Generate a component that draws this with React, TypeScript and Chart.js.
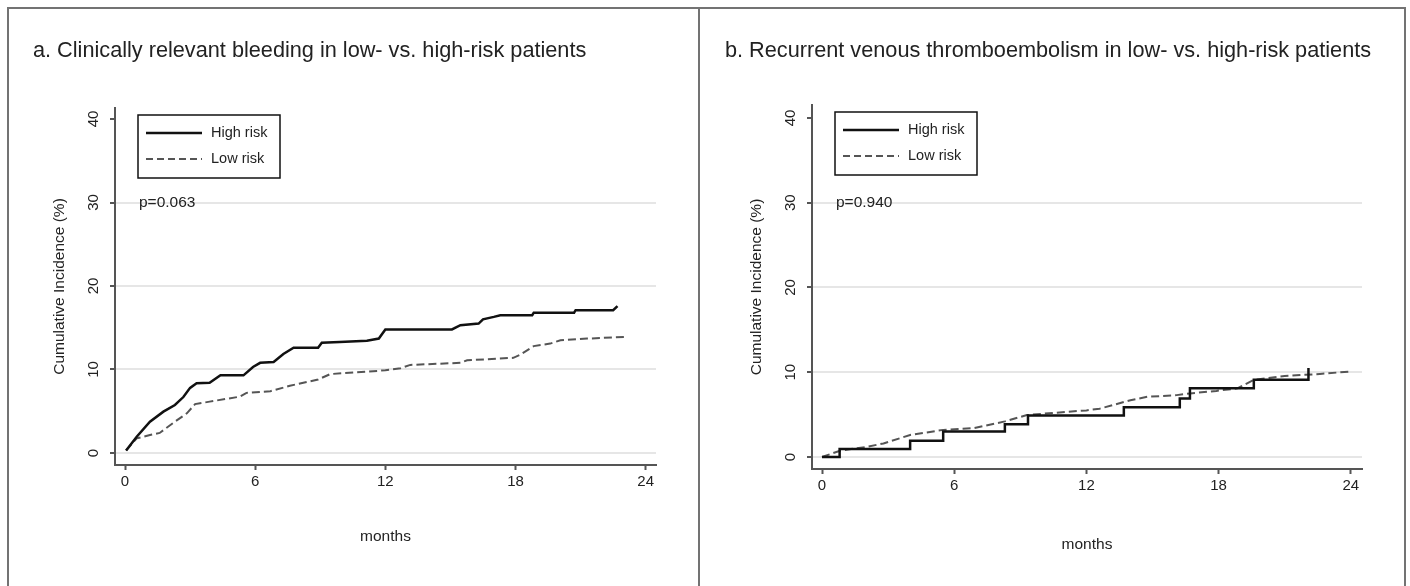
import React, { useEffect, useRef } from "react";
import { Chart, registerables } from "chart.js";

Chart.register(...registerables);

const FONT = "'Liberation Sans', Arial, Helvetica, sans-serif";

// Axis ticks shared by both panels
const xTicks = [0, 6, 12, 18, 24];
const yTicks = [0, 10, 20, 30, 40];
const seriesNames = ["High risk", "Low risk"];
const xTitle = "months";
const yTitle = "Cumulative Incidence (%)";

// a. Clinically relevant bleeding — cumulative incidence (%) by month
const bleedHighMonths = [0.05, 0.54, 1.15, 1.77, 2.3, 2.69, 3.0, 3.3, 3.9, 4.4, 5.46, 5.9, 6.23, 6.85, 7.3, 7.77, 8.9, 9.07, 9.9, 11.15, 11.7, 12.0, 15.07, 15.46, 16.3, 16.5, 17.0, 17.3, 18.77, 18.84, 20.7, 20.77, 22.5, 22.7];
const bleedHighPct = [0.3, 1.95, 3.75, 4.95, 5.75, 6.7, 7.8, 8.35, 8.4, 9.3, 9.3, 10.3, 10.8, 10.9, 11.85, 12.6, 12.6, 13.2, 13.3, 13.45, 13.7, 14.8, 14.8, 15.3, 15.5, 16.0, 16.3, 16.5, 16.5, 16.8, 16.8, 17.1, 17.1, 17.6];
const bleedLowMonths = [0.05, 0.54, 1.15, 1.6, 2.3, 2.85, 3.23, 3.9, 5.3, 5.6, 6.7, 7.6, 8.9, 9.46, 11.15, 12.0, 12.7, 13.15, 15.46, 15.77, 17.9, 18.2, 18.84, 19.6, 20.07, 21.3, 23.07];
const bleedLowPct = [0.3, 1.75, 2.15, 2.4, 3.75, 4.75, 5.85, 6.15, 6.75, 7.2, 7.4, 8.05, 8.8, 9.45, 9.75, 9.9, 10.15, 10.55, 10.8, 11.1, 11.4, 11.75, 12.8, 13.1, 13.5, 13.7, 13.9];

// b. Recurrent venous thromboembolism — cumulative incidence (%) by month
const vteHighMonths = [0, 0.8, 4.0, 5.5, 8.3, 9.35, 13.7, 16.24, 16.7, 19.6, 22.08];
const vteHighPct = [0, 0.94, 1.93, 3.0, 3.85, 4.9, 5.86, 6.9, 8.1, 9.1, 10.5];
const vteLowMonths = [0, 0.82, 2.03, 2.79, 4.0, 5.5, 6.9, 8.3, 9.3, 10.5, 12.0, 12.6, 14.0, 14.76, 16.1, 16.7, 17.9, 18.85, 19.6, 21.0, 22.6, 23.9];
const vteLowPct = [0, 0.74, 1.2, 1.6, 2.6, 3.2, 3.4, 4.2, 4.95, 5.2, 5.5, 5.7, 6.7, 7.1, 7.3, 7.5, 7.8, 8.1, 9.1, 9.55, 9.8, 10.07];

const toPoints = (xs: number[], ys: number[]) => xs.map((x, i) => ({ x, y: ys[i] }));

type PanelSpec = {
  title: string;
  pText: string;
  left: number;
  width: number;
  titleLeft: number;
  pad: { left: number; top: number; right: number; bottom: number };
  xAxisHeight: number;
  xRange: [number, number];
  yRange: [number, number];
  high: { x: number; y: number }[];
  low: { x: number; y: number }[];
  highStepped: boolean;
};

const panels: PanelSpec[] = [
  {
    title: "a. Clinically relevant bleeding in low- vs. high-risk patients",
    pText: "p=0.063",
    left: 0,
    width: 700,
    titleLeft: 33,
    pad: { left: 55, top: 108, right: 44, bottom: 40 },
    xAxisHeight: 81,
    xRange: [-0.461, 24.475],
    yRange: [-1.44, 41.32],
    high: toPoints(bleedHighMonths, bleedHighPct),
    low: toPoints(bleedLowMonths, bleedLowPct),
    highStepped: false,
  },
  {
    title: "b. Recurrent venous thromboembolism in low- vs. high-risk patients",
    pText: "p=0.940",
    left: 700,
    width: 710,
    titleLeft: 725,
    pad: { left: 52, top: 105, right: 48, bottom: 32 },
    xAxisHeight: 85,
    xRange: [-0.454, 24.51],
    yRange: [-1.416, 41.53],
    high: toPoints(vteHighMonths, vteHighPct),
    low: toPoints(vteLowMonths, vteLowPct),
    highStepped: true,
  },
];

const AXIS = "#555";
const TEXT = "#222";
const HIGH_COLOR = "#111";
const LOW_COLOR = "#555";
const LOW_DASH = [8, 4];

// Draws rotated y tick labels, y title, p-value note and the boxed legend
const overlayPlugin = {
  id: "kmOverlay",
  afterDraw(chart: any, _args: any, opts: any) {
    const { ctx, chartArea } = chart;
    const ys = chart.scales.y;
    ctx.save();
    ctx.fillStyle = TEXT;

    ctx.font = `15px ${FONT}`;
    ctx.textAlign = "center";
    ctx.textBaseline = "middle";
    for (const v of yTicks) {
      ctx.save();
      ctx.translate(chartArea.left - 21, ys.getPixelForValue(v));
      ctx.rotate(-Math.PI / 2);
      ctx.fillText(String(v), 0, 0);
      ctx.restore();
    }

    ctx.font = `15.5px ${FONT}`;
    ctx.save();
    ctx.translate(chartArea.left - 55, (chartArea.top + chartArea.bottom) / 2);
    ctx.rotate(-Math.PI / 2);
    ctx.fillText(yTitle, 0, 0);
    ctx.restore();

    ctx.font = `15.5px ${FONT}`;
    ctx.textAlign = "left";
    ctx.fillText(opts.pText, chartArea.left + 24, ys.getPixelForValue(30));

    // legend box
    const bx = chartArea.left + 23;
    const by = chartArea.top + 7;
    const bw = 142;
    const bh = 63;
    ctx.fillStyle = "#fff";
    ctx.fillRect(bx, by, bw, bh);
    ctx.strokeStyle = "#111";
    ctx.lineWidth = 1.5;
    ctx.strokeRect(bx, by, bw, bh);

    const rows = [by + 18, by + 44];
    ctx.lineWidth = 2.5;
    ctx.strokeStyle = HIGH_COLOR;
    ctx.beginPath();
    ctx.moveTo(bx + 8, rows[0]);
    ctx.lineTo(bx + 64, rows[0]);
    ctx.stroke();
    ctx.lineWidth = 2;
    ctx.strokeStyle = LOW_COLOR;
    ctx.setLineDash([7, 4]);
    ctx.beginPath();
    ctx.moveTo(bx + 8, rows[1]);
    ctx.lineTo(bx + 64, rows[1]);
    ctx.stroke();
    ctx.setLineDash([]);

    ctx.fillStyle = TEXT;
    ctx.font = `14.5px ${FONT}`;
    ctx.textBaseline = "middle";
    ctx.fillText(seriesNames[0], bx + 73, rows[0]);
    ctx.fillText(seriesNames[1], bx + 73, rows[1]);
    ctx.restore();
  },
};

function Panel({ spec }: { spec: PanelSpec }) {
  const ref = useRef<HTMLCanvasElement | null>(null);

  useEffect(() => {
    if (!ref.current) return;
    const chart = new Chart(ref.current, {
      type: "line",
      data: {
        datasets: [
          {
            label: seriesNames[0],
            data: spec.high,
            borderColor: HIGH_COLOR,
            borderWidth: 2.5,
            pointRadius: 0,
            fill: false,
            tension: 0,
            stepped: spec.highStepped ? "before" : false,
          },
          {
            label: seriesNames[1],
            data: spec.low,
            borderColor: LOW_COLOR,
            borderWidth: 2,
            borderDash: LOW_DASH,
            pointRadius: 0,
            fill: false,
            tension: 0,
          },
        ],
      },
      options: {
        animation: false,
        responsive: false,
        maintainAspectRatio: false,
        devicePixelRatio: 1,
        events: [],
        layout: { padding: spec.pad, autoPadding: false },
        plugins: {
          legend: { display: false },
          tooltip: { enabled: false },
          title: { display: false },
          kmOverlay: { pText: spec.pText },
        } as any,
        scales: {
          x: {
            type: "linear",
            min: spec.xRange[0],
            max: spec.xRange[1],
            afterBuildTicks: (s: any) => {
              s.ticks = xTicks.map((value) => ({ value }));
            },
            afterFit: (s: any) => {
              s.height = spec.xAxisHeight;
            },
            grid: {
              drawOnChartArea: false,
              drawTicks: true,
              tickLength: 5,
              tickColor: AXIS,
              tickWidth: 2,
              color: AXIS,
            },
            border: { display: true, color: AXIS, width: 2 },
            ticks: {
              color: TEXT,
              font: { family: FONT, size: 15 },
              padding: 3,
              maxRotation: 0,
              autoSkip: false,
            },
            title: {
              display: true,
              text: xTitle,
              color: TEXT,
              font: { family: FONT, size: 15.5 },
              padding: 0,
            },
          },
          y: {
            type: "linear",
            min: spec.yRange[0],
            max: spec.yRange[1],
            afterBuildTicks: (s: any) => {
              s.ticks = yTicks.map((value) => ({ value }));
            },
            afterFit: (s: any) => {
              s.width = 60;
            },
            grid: {
              color: (c: any) => (c.tick && c.tick.value === 40 ? "rgba(0,0,0,0)" : "#e6e6e6"),
              lineWidth: 2,
              drawTicks: true,
              tickLength: 5,
              tickColor: AXIS,
              tickWidth: 2,
            },
            border: { display: true, color: AXIS, width: 2 },
            ticks: { display: false },
          },
        },
      },
      plugins: [overlayPlugin],
    });
    return () => chart.destroy();
  }, [spec]);

  return (
    <canvas
      ref={ref}
      width={spec.width}
      height={586}
      style={{ position: "absolute", left: spec.left, top: 0, width: spec.width, height: 586 }}
    />
  );
}

export default function App() {
  const frame = "#737373";
  return (
    <div
      style={{
        position: "fixed",
        left: 0,
        top: 0,
        width: 1410,
        height: 586,
        background: "#fff",
        overflow: "hidden",
        fontFamily: FONT,
      }}
    >
      {panels.map((p) => (
        <Panel key={p.title} spec={p} />
      ))}
      {panels.map((p) => (
        <div
          key={p.title + "-t"}
          style={{
            position: "absolute",
            left: p.titleLeft,
            top: 39,
            fontSize: 21.7,
            lineHeight: "21.7px",
            color: TEXT,
            whiteSpace: "nowrap",
          }}
        >
          {p.title}
        </div>
      ))}
      <div style={{ position: "absolute", left: 7, top: 7, width: 1399, height: 2, background: frame }} />
      <div style={{ position: "absolute", left: 7, top: 7, width: 2, height: 579, background: frame }} />
      <div style={{ position: "absolute", left: 698, top: 7, width: 2, height: 579, background: frame }} />
      <div style={{ position: "absolute", left: 1404, top: 7, width: 2, height: 579, background: frame }} />
    </div>
  );
}
